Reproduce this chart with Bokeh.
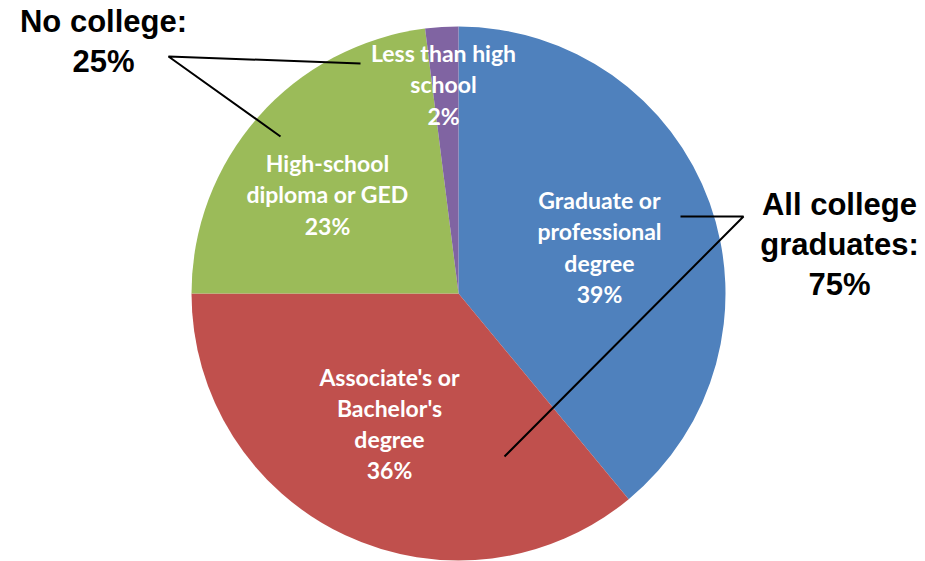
import math
from bokeh.plotting import figure
from bokeh.models import Range1d, ColumnDataSource
from bokeh.core.properties import value
from bokeh.embed import file_html
from bokeh.resources import INLINE

# ---- data ----
categories = ["Graduate or\nprofessional\ndegree",
              "Associate's or\nBachelor's\ndegree",
              "High-school\ndiploma or GED",
              "Less than high\nschool"]
percents = [39, 36, 23, 2]
colors = ["#4F81BD", "#C0504D", "#9BBB59", "#8064A2"]

group_labels = ["No college:\n25%", "All college\ngraduates:\n75%"]

# ---- layout (figure pixel coords, y up) ----
W, H = 925, 561
def sy(y_screen):
    return H - y_screen
def sx(x_screen):
    return x_screen

cx, cy, r = sx(458), sy(293), 267

total = sum(percents)
starts, ends = [], []
acc = 0.0
for v in percents:
    a = acc / total
    b = (acc + v) / total
    starts.append(math.pi / 2 - 2 * math.pi * b)
    ends.append(math.pi / 2 - 2 * math.pi * a)
    acc += v

p = figure(width=W, height=H, output_backend="svg", toolbar_location=None,
           x_range=Range1d(0, W), y_range=Range1d(0, H), min_border=0)
p.axis.visible = False
p.grid.visible = False
p.outline_line_color = None
p.background_fill_color = "white"
p.border_fill_color = "white"

src = ColumnDataSource(dict(start=starts, end=ends, color=colors))
p.wedge(x=cx, y=cy, radius=r, start_angle="start", end_angle="end",
        fill_color="color", line_color=None, source=src)

# slice labels
lab_x = [sx(599), sx(389), sx(327), sx(443)]
lab_y = [sy(246.5), sy(423), sy(194), sy(84)]
lab_text = [f"{c}\n{v}%" for c, v in zip(categories, percents)]
p.text(x=lab_x, y=lab_y, text=lab_text, text_color="white",
       text_font=value("Lato"), text_font_style="bold", text_font_size="23px",
       text_align="center", text_baseline="middle", text_line_height=1.11)

# group labels
p.text(x=[sx(103), sx(839)], y=[sy(41), sy(244)], text=group_labels,
       text_color="black", text_font=value("Liberation Sans"),
       text_font_style="bold", text_font_size="31px",
       text_align="center", text_baseline="middle", text_line_height=1.14)

# leader lines
p.multi_line(xs=[[sx(360), sx(168), sx(280)], [sx(680), sx(743), sx(504)]],
             ys=[[sy(63), sy(56), sy(136)], [sy(216), sy(216), sy(456)]],
             line_color="black", line_width=2)

open("out.html", "w").write(file_html(p, INLINE))
